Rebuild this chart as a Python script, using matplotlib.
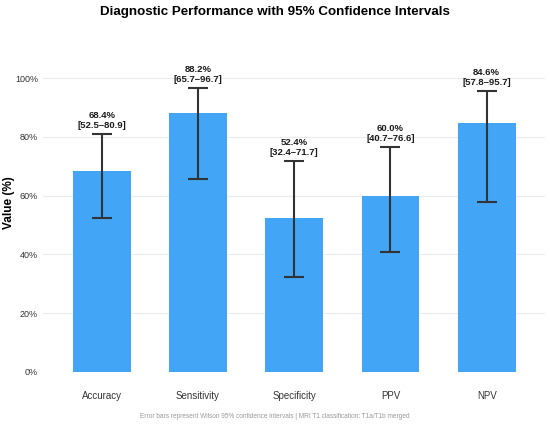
import matplotlib
matplotlib.use("Agg")
import matplotlib.pyplot as plt
from matplotlib import font_manager
import numpy as np

# drop the narrow variants so "Liberation Sans" resolves to the regular width
font_manager.fontManager.ttflist = [
    f for f in font_manager.fontManager.ttflist if "Narrow" not in f.fname
]
plt.rcParams['font.family'] = ['Liberation Sans', 'DejaVu Sans']

metrics = ["Accuracy", "Sensitivity", "Specificity", "PPV", "NPV"]
values = [68.4, 88.2, 52.4, 60.0, 84.6]
ci_low = [52.5, 65.7, 32.4, 40.7, 57.8]
ci_high = [80.9, 96.7, 71.7, 76.6, 95.7]

fig, ax = plt.subplots(figsize=(5.5, 4.25), dpi=100)
fig.subplots_adjust(left=0.078, right=0.99, top=0.92, bottom=0.125)

x = np.arange(len(metrics))
vals = np.array(values)
err = [vals - np.array(ci_low), np.array(ci_high) - vals]

ax.bar(x, vals, width=0.6, color="#42A5F5", zorder=2)
ax.errorbar(x, vals, yerr=err, fmt="none", ecolor="#333333",
            elinewidth=1.5, capsize=7, capthick=1.5, zorder=3)

for xi, v, lo, hi in zip(x, values, ci_low, ci_high):
    ax.text(xi, hi + 1.3, f"{v:.1f}%\n[{lo:.1f}\u2013{hi:.1f}]",
            ha="center", va="bottom", fontsize=6.8, fontweight="bold",
            color="#1a1a1a", linespacing=1.15)

ax.set_xlim(-0.61, 4.6)
ax.set_ylim(0, 115)
ax.set_yticks([0, 20, 40, 60, 80, 100])
ax.set_yticklabels([f"{t}%" for t in [0, 20, 40, 60, 80, 100]])
ax.set_xticks(x)
ax.set_xticklabels(metrics)
ax.tick_params(axis="both", length=0, colors="#333333")
ax.tick_params(axis="x", pad=14, labelsize=7)
ax.tick_params(axis="y", pad=3.5, labelsize=6.5)
ax.grid(axis="y", color="#EBEBEB", linewidth=0.8, zorder=0)
ax.set_axisbelow(True)
for s in ax.spines.values():
    s.set_visible(False)

ax.set_ylabel("Value (%)", fontsize=8.5, fontweight="bold")
ax.yaxis.set_label_coords(-0.055, 0.5)
fig.suptitle("Diagnostic Performance with 95% Confidence Intervals",
             fontsize=9.6, fontweight="bold", y=0.985)
fig.text(0.5, 0.021, "Error bars represent Wilson 95% confidence intervals | MRI T1 classification: T1a/T1b merged",
         ha="center", va="center", fontsize=4.7, color="#999999")

fig.savefig("out.png", dpi=100)
